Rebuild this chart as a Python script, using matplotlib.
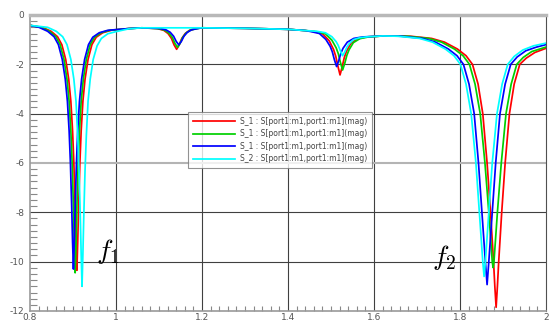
import numpy as np
import matplotlib
matplotlib.use("Agg")
import matplotlib.pyplot as plt
from matplotlib.ticker import MultipleLocator

plt.rcParams["axes.unicode_minus"] = False
plt.rcParams["mathtext.fontset"] = "cm"

# ---- data (frequency in GHz, magnitude in dB) ----
red_f = [0.800, 0.829, 0.849, 0.864, 0.874, 0.883, 0.890, 0.895, 0.899, 0.902, 0.905,
         0.907, 0.909, 0.911, 0.913, 0.916, 0.919, 0.923, 0.928, 0.935, 0.944, 0.954,
         0.969, 0.989, 1.030, 1.060, 1.096, 1.111, 1.121, 1.129, 1.135, 1.141, 1.147,
         1.153, 1.161, 1.171, 1.186, 1.200, 1.300, 1.400, 1.440, 1.461, 1.481, 1.496,
         1.506, 1.511, 1.516, 1.521, 1.526, 1.531, 1.536, 1.546, 1.561, 1.581, 1.620,
         1.684, 1.734, 1.764, 1.794, 1.814, 1.829, 1.842, 1.853, 1.863, 1.871, 1.878,
         1.881, 1.884, 1.887, 1.890, 1.897, 1.905, 1.915, 1.926, 1.939, 1.954, 1.974,
         2.000]
red_m = [-0.42, -0.50, -0.66, -0.88, -1.20, -1.80, -2.60, -3.50, -4.70, -6.00, -7.80,
         -9.20, -10.35, -9.20, -7.80, -6.00, -4.70, -3.50, -2.60, -1.80, -1.20, -0.90,
         -0.72, -0.62, -0.55, -0.52, -0.55, -0.62, -0.75, -0.95, -1.21, -1.39, -1.21,
         -0.95, -0.75, -0.62, -0.55, -0.52, -0.54, -0.58, -0.63, -0.67, -0.77, -1.05,
         -1.40, -1.67, -2.07, -2.43, -2.10, -1.72, -1.47, -1.15, -0.97, -0.89, -0.85,
         -0.86, -0.95, -1.10, -1.38, -1.65, -2.00, -2.80, -4.00, -6.00, -8.00, -10.00,
         -11.00, -11.85, -11.00, -10.00, -8.00, -6.00, -4.00, -2.80, -2.00, -1.75, -1.52,
         -1.35]

green_f = [0.800, 0.825, 0.845, 0.860, 0.870, 0.879, 0.886, 0.891, 0.895, 0.898, 0.901,
           0.903, 0.905, 0.907, 0.909, 0.912, 0.915, 0.919, 0.924, 0.931, 0.940, 0.950,
           0.965, 0.985, 1.030, 1.060, 1.098, 1.113, 1.123, 1.131, 1.137, 1.143, 1.149,
           1.155, 1.163, 1.173, 1.188, 1.200, 1.300, 1.400, 1.440, 1.467, 1.487, 1.502,
           1.512, 1.517, 1.522, 1.527, 1.532, 1.537, 1.542, 1.552, 1.567, 1.587, 1.620,
           1.677, 1.727, 1.757, 1.787, 1.807, 1.822, 1.835, 1.847, 1.858, 1.867, 1.875,
           1.877, 1.879, 1.887, 1.896, 1.907, 1.919, 1.932, 1.947, 1.967, 2.000]
green_m = [-0.42, -0.50, -0.66, -0.88, -1.20, -1.80, -2.60, -3.50, -4.70, -6.00, -7.80,
           -9.30, -10.45, -9.30, -7.80, -6.00, -4.70, -3.50, -2.60, -1.80, -1.20, -0.90,
           -0.72, -0.62, -0.55, -0.52, -0.55, -0.61, -0.73, -0.91, -1.15, -1.31, -1.15,
           -0.91, -0.73, -0.61, -0.55, -0.52, -0.54, -0.58, -0.63, -0.68, -0.76, -1.02,
           -1.33, -1.57, -1.93, -2.23, -1.96, -1.63, -1.41, -1.12, -0.96, -0.89, -0.85,
           -0.86, -0.95, -1.10, -1.38, -1.65, -2.00, -2.80, -4.00, -6.00, -8.00, -10.00,
           -10.24, -10.00, -8.00, -6.00, -4.00, -2.80, -2.00, -1.72, -1.48, -1.30]

blue_f = [0.800, 0.821, 0.841, 0.856, 0.866, 0.875, 0.882, 0.887, 0.891, 0.894, 0.897,
          0.899, 0.901, 0.903, 0.905, 0.908, 0.911, 0.915, 0.920, 0.927, 0.936, 0.946,
          0.961, 0.981, 1.030, 1.060, 1.101, 1.116, 1.126, 1.134, 1.140, 1.146, 1.152,
          1.158, 1.166, 1.176, 1.191, 1.200, 1.300, 1.400, 1.440, 1.453, 1.473, 1.488,
          1.498, 1.503, 1.508, 1.513, 1.518, 1.523, 1.528, 1.538, 1.553, 1.573, 1.620,
          1.663, 1.713, 1.743, 1.773, 1.793, 1.808, 1.821, 1.833, 1.843, 1.851, 1.859,
          1.863, 1.867, 1.875, 1.883, 1.893, 1.905, 1.918, 1.933, 1.953, 1.978, 2.000]
blue_m = [-0.42, -0.50, -0.66, -0.88, -1.20, -1.80, -2.60, -3.50, -4.70, -6.00, -7.80,
          -9.20, -10.30, -9.20, -7.80, -6.00, -4.70, -3.50, -2.60, -1.80, -1.20, -0.90,
          -0.72, -0.62, -0.55, -0.52, -0.545, -0.60, -0.70, -0.86, -1.07, -1.21, -1.07,
          -0.86, -0.70, -0.60, -0.545, -0.52, -0.54, -0.58, -0.63, -0.67, -0.75, -0.99,
          -1.27, -1.49, -1.82, -2.09, -1.85, -1.55, -1.35, -1.10, -0.95, -0.89, -0.85,
          -0.86, -0.95, -1.10, -1.38, -1.65, -2.00, -2.80, -4.00, -6.00, -8.00, -10.00,
          -10.93, -10.00, -8.00, -6.00, -4.00, -2.80, -2.00, -1.70, -1.45, -1.30, -1.20]

cyan_f = [0.800, 0.841, 0.861, 0.876, 0.886, 0.895, 0.902, 0.907, 0.911, 0.914, 0.917,
          0.919, 0.921, 0.923, 0.925, 0.928, 0.931, 0.935, 0.940, 0.947, 0.956, 0.966,
          0.981, 1.001, 1.030, 1.060, 1.200, 1.300, 1.400, 1.440, 1.467, 1.487, 1.502,
          1.512, 1.517, 1.522, 1.527, 1.532, 1.537, 1.542, 1.552, 1.567, 1.587, 1.620,
          1.656, 1.706, 1.736, 1.766, 1.786, 1.801, 1.814, 1.826, 1.837, 1.845, 1.853,
          1.856, 1.859, 1.867, 1.875, 1.886, 1.898, 1.911, 1.926, 1.946, 1.971, 2.000]
cyan_m = [-0.42, -0.50, -0.66, -0.88, -1.20, -1.80, -2.60, -3.50, -4.90, -6.30, -8.20,
          -9.70, -11.00, -9.70, -8.20, -6.30, -4.90, -3.50, -2.60, -1.80, -1.25, -0.95,
          -0.76, -0.67, -0.56, -0.52, -0.52, -0.54, -0.58, -0.63, -0.66, -0.72, -0.88,
          -1.08, -1.24, -1.46, -1.65, -1.50, -1.30, -1.17, -1.00, -0.92, -0.88, -0.85,
          -0.86, -0.95, -1.10, -1.38, -1.65, -2.00, -2.80, -4.00, -6.00, -8.00, -10.00,
          -10.60, -10.00, -8.00, -6.00, -4.00, -2.80, -2.00, -1.68, -1.42, -1.25, -1.14]

series = [
    (red_f, red_m, "#ff0000", "S_1 : S[port1:m1,port1:m1](mag)"),
    (green_f, green_m, "#00d000", "S_1 : S[port1:m1,port1:m1](mag)"),
    (blue_f, blue_m, "#0000ff", "S_1 : S[port1:m1,port1:m1](mag)"),
    (cyan_f, cyan_m, "#00ffff", "S_2 : S[port1:m1,port1:m1](mag)"),
]

x_ticks = [0.8, 1.0, 1.2, 1.4, 1.6, 1.8, 2.0]
x_tick_labels = ["0.8", "1", "1.2", "1.4", "1.6", "1.8", "2"]
y_ticks = [0, -2, -4, -6, -8, -10, -12]

fig = plt.figure(figsize=(5.51, 3.22), dpi=100)
ax = fig.add_axes([30 / 551, 1 - 311 / 322, 516 / 551, 296 / 322])

for f, m, c, lab in series:
    ax.plot(f, m, color=c, linewidth=1.25, label=lab)

ax.set_xlim(0.8, 2.0)
ax.set_ylim(-12, 0)
ax.set_xticks(x_ticks)
ax.set_xticklabels(x_tick_labels)
ax.set_yticks(y_ticks)
ax.set_yticklabels([str(v) for v in y_ticks])
ax.xaxis.set_minor_locator(MultipleLocator(0.02))
ax.yaxis.set_minor_locator(MultipleLocator(0.25))

ax.tick_params(which="major", length=0, labelsize=6.5, labelcolor="#555555")
ax.tick_params(axis="x", which="major", pad=1.2)
ax.tick_params(axis="y", which="major", pad=4)
ax.tick_params(which="minor", direction="in", length=3.5, color="#888888", width=0.8)
ax.tick_params(axis="y", which="minor", length=5)

# grid
for xv in x_ticks[1:-1]:
    ax.axvline(xv, color="#404040", linewidth=0.8, zorder=0)
for yv in y_ticks[1:-1]:
    if yv == -6:
        ax.axhline(yv, color="#b4b4b4", linewidth=1.5, zorder=0)
    else:
        ax.axhline(yv, color="#404040", linewidth=0.8, zorder=0)

ax.spines["top"].set_color("#b8b8b8")
ax.spines["top"].set_linewidth(2.5)
ax.spines["left"].set_color("#999999")
ax.spines["left"].set_linewidth(1.2)
ax.spines["bottom"].set_color("#999999")
ax.spines["bottom"].set_linewidth(1.2)
ax.spines["right"].set_color("#505050")
ax.spines["right"].set_linewidth(0.8)

ax.text(0.953, -9.9, r"$f_1$", fontsize=20, color="black")
ax.text(1.734, -10.15, r"$f_2$", fontsize=20, color="black")

leg = ax.legend(loc="upper left", bbox_to_anchor=(0.306, 0.672), fontsize=5.5,
                frameon=True, fancybox=False, handlelength=5.5, handletextpad=0.7,
                labelspacing=0.45, borderpad=0.65, borderaxespad=0)
leg.get_frame().set_edgecolor("#777777")
leg.get_frame().set_linewidth(0.8)
for t in leg.get_texts():
    t.set_color("#444444")

fig.savefig("out.png", dpi=100)
